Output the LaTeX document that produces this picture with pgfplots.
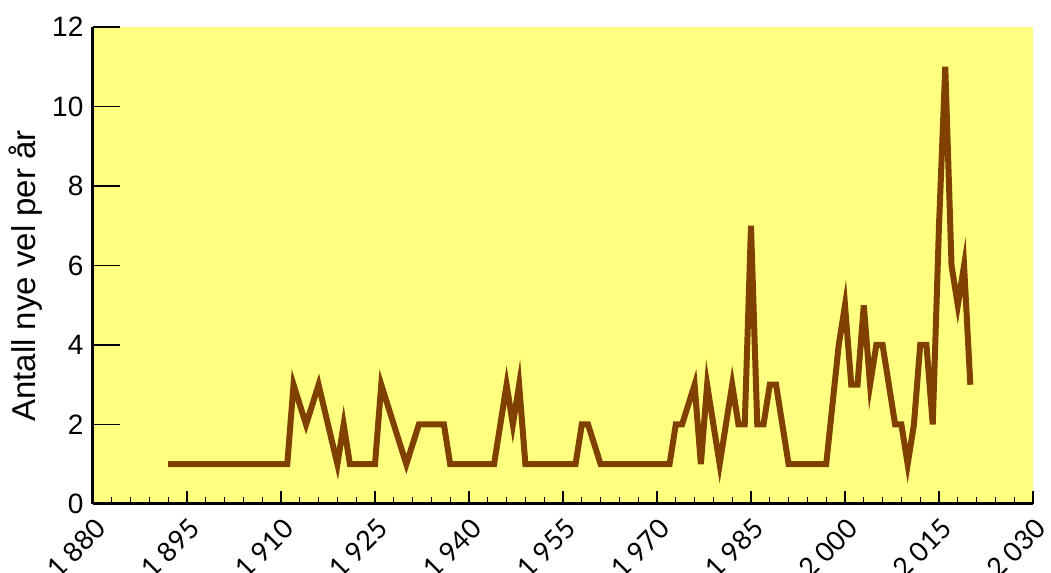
\documentclass[border=0pt]{standalone}
\usepackage{fontspec}
\setmainfont{Liberation Sans}
\newfontfamily\tickfont{Lato}
\usepackage{pgfplots}
\pgfplotsset{compat=1.18}
\definecolor{bgyellow}{RGB}{255,255,128}
\definecolor{linebrown}{RGB}{128,64,0}

\begin{document}
\begin{tikzpicture}
\path[use as bounding box] (0,0) rectangle (525.5pt,286.5pt);
\begin{axis}[
  at={(46.5pt,34.5pt)}, anchor=south west,
  scale only axis, width=470pt, height=238.5pt,
  xmin=1880, xmax=2030, ymin=0, ymax=12,
  xtick={1880,1895,...,2030}, minor x tick num=4,
  ytick distance=2,
  axis lines=left,
  axis line style={-, line width=1.5pt},
  axis background/.style={fill=bgyellow},
  tick align=inside,
  major tick length=6.5pt, minor tick length=3.5pt,
  ytick style={/pgfplots/major tick length=13.5pt},
  every tick/.style={black, line width=0.6pt},
  /pgf/number format/assume math mode=true,
  /pgf/number format/1000 sep={\hspace{0.25em}},
  xticklabel style={font=\tickfont\fontsize{13.5}{13.5}\selectfont,
    xshift=6.5pt, yshift=-7.5pt, rotate=45, anchor=east},
  yticklabel style={font=\fontsize{14}{14}\selectfont, xshift=-1.3pt},
  ylabel={Antall nye vel per år},
  ylabel style={font=\fontsize{16.5}{16.5}\selectfont,
    at={(axis description cs:-0.0713,0.478)}, anchor=center},
]
\addplot[linebrown, line width=3pt, mark=none] coordinates {
(1892,1) (1896,1) (1899,1) (1902,1) (1903,1) (1906,1) (1909,1) (1911,1)
(1912,3) (1914,2) (1916,3) (1919,1) (1920,2) (1921,1) (1922,1) (1924,1)
(1925,1) (1926,3) (1930,1) (1932,2) (1934,2) (1936,2) (1937,1) (1939,1)
(1941,1) (1944,1) (1946,3) (1947,2) (1948,3) (1949,1) (1950,1) (1951,1)
(1952,1) (1953,1) (1956,1) (1957,1) (1958,2) (1959,2) (1961,1) (1962,1)
(1968,1) (1969,1) (1970,1) (1971,1) (1972,1) (1973,2) (1974,2) (1976,3)
(1977,1) (1978,3) (1980,1) (1982,3) (1983,2) (1984,2) (1985,7) (1986,2)
(1987,2) (1988,3) (1989,3) (1991,1) (1992,1) (1993,1) (1994,1) (1995,1)
(1996,1) (1997,1) (1999,4) (2000,5) (2001,3) (2002,3) (2003,5) (2004,3)
(2005,4) (2006,4) (2007,3) (2008,2) (2009,2) (2010,1) (2011,2) (2012,4)
(2013,4) (2014,2) (2015,7) (2016,11) (2017,6) (2018,5) (2019,6) (2020,3)
};
\end{axis}
\end{tikzpicture}
\end{document}
